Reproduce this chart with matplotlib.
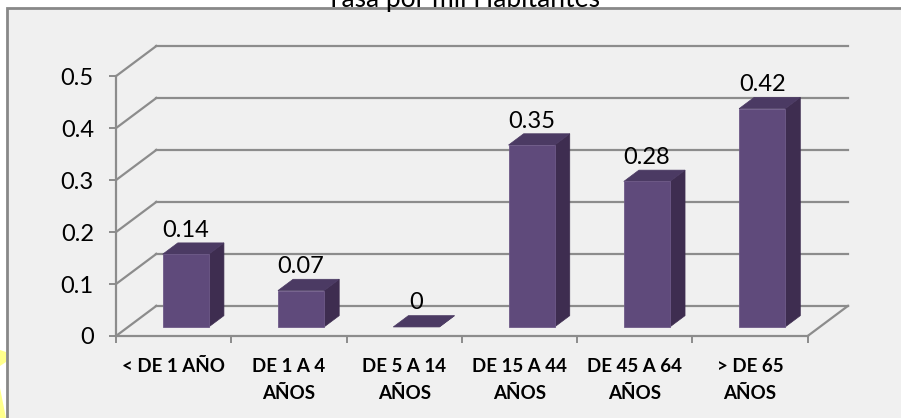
import matplotlib
matplotlib.use("Agg")
import matplotlib.pyplot as plt
from matplotlib.patches import Polygon, Rectangle

# datos
categorias = ["< DE 1 AÑO", "DE 1 A 4\nAÑOS", "DE 5 A 14\nAÑOS",
              "DE 15 A 44\nAÑOS", "DE 45 A 64\nAÑOS", "> DE 65\nAÑOS"]
tasas = [0.14, 0.07, 0, 0.35, 0.28, 0.42]
etiquetas = ["0.14", "0.07", "0", "0.35", "0.28", "0.42"]
ticks_y = [0, 0.1, 0.2, 0.3, 0.4, 0.5]
titulo = "Tasa por mil Habitantes"

# estilo
FRENTE = "#5F4A7B"
LADO = "#3E2D50"
TECHO = "#4B3A63"
GRIS = "#8C8C8C"
FONDO = "#F0F0F0"
plt.rcParams['font.family'] = ['Lato', 'DejaVu Sans']

# proyeccion oblicua (en unidades de datos)
DX = 0.35      # desplazamiento horizontal de la pared del fondo
DY = 0.058     # desplazamiento vertical de la pared del fondo
D0 = 0.3       # profundidad de la cara frontal de la barra
T = 0.375      # grosor de la barra (fraccion de profundidad)
ANCHO = 0.4

W, H = 901, 418
fig = plt.figure(figsize=(W / 100, H / 100), dpi=100)
fig.patch.set_facecolor("white")

# marco del grafico
fig.patches.append(Rectangle((7 / W, -0.1), 1.2, 1.1 - 8 / H, transform=fig.transFigure,
                             facecolor=FONDO, edgecolor="#888888", linewidth=2, zorder=-2))
# manchas amarillas del borde
fig.patches.append(Polygon([(0, 1 - 350 / H), (6 / W, 1 - 352 / H), (6 / W, 1 - 362 / H), (0, 1 - 366 / H)],
                           transform=fig.transFigure, facecolor="#FFFF8C", edgecolor="none", zorder=-1))
fig.patches.append(Polygon([(0, 1 - 388 / H), (6 / W, 0), (0, 0)],
                           transform=fig.transFigure, facecolor="#FFFF8C", edgecolor="none", zorder=-1))

fig.text(463 / W, 1 - 7 / H, titulo, ha="center", va="baseline", fontsize=19)

ax = fig.add_axes([116 / W, (H - 336) / H, (848 - 116) / W, (336 - 46) / H])
ax.set_zorder(2)
ax.set_facecolor("none")
n = len(tasas)
ax.set_xlim(-0.5, n - 0.5 + DX)
ax.set_ylim(0, 0.5 + DY)

# paredes: lineas de cuadricula
for v in ticks_y:
    ax.plot([-0.5, -0.5 + DX], [v, v + DY], color=GRIS, lw=1.6, zorder=1, clip_on=False)
    ax.plot([-0.5 + DX, n - 0.5 + DX], [v + DY, v + DY], color=GRIS, lw=1.6, zorder=1, clip_on=False)
ax.plot([n - 0.5, n - 0.5 + DX], [0, DY], color=GRIS, lw=1.6, zorder=1, clip_on=False)

# barras 3D
for i, v in enumerate(tasas):
    x0 = i - ANCHO / 2 + D0 * DX
    x1 = x0 + ANCHO
    y0 = D0 * DY
    y1 = v + D0 * DY
    ex, ey = T * DX, T * DY
    ax.add_patch(Polygon([(x1, y0), (x1 + ex, y0 + ey), (x1 + ex, y1 + ey), (x1, y1)],
                         facecolor=LADO, edgecolor=LADO, lw=0.5, zorder=3))
    ax.add_patch(Polygon([(x0, y1), (x1, y1), (x1 + ex, y1 + ey), (x0 + ex, y1 + ey)],
                         facecolor=TECHO, edgecolor=TECHO, lw=0.5, zorder=3))
    if v > 0:
        ax.add_patch(Polygon([(x0, y0), (x1, y0), (x1, y1), (x0, y1)],
                             facecolor=FRENTE, edgecolor="#6E5A88", lw=0.6, zorder=4))
    ax.annotate(etiquetas[i], (i + D0 * DX, v + (D0 + T) * DY), xytext=(0, 4.5),
                textcoords="offset points", ha="center", va="baseline", fontsize=17, zorder=5)

# ejes
for s in ["top", "right"]:
    ax.spines[s].set_visible(False)
ax.spines["left"].set_bounds(0, 0.5)
ax.spines["bottom"].set_bounds(-0.5, n - 0.5)
for s in ["left", "bottom"]:
    ax.spines[s].set_color(GRIS)
    ax.spines[s].set_linewidth(1.6)
    ax.spines[s].set_zorder(2)

ax.set_yticks(ticks_y)
ax.set_yticklabels(["0", "0.1", "0.2", "0.3", "0.4", "0.5"])
ax.tick_params(axis="y", direction="out", length=5, width=1.4, color=GRIS, pad=11, labelsize=17)

ax.set_xticks([i - 0.5 for i in range(n + 1)])
ax.set_xticklabels([])
ax.set_xticks(range(n), minor=True)
ax.set_xticklabels(categorias, minor=True, fontweight="bold", fontsize=13.5, linespacing=1.7)
ax.tick_params(axis="x", which="minor", length=0, pad=16)
ax.tick_params(axis="x", which="major", direction="out", length=5, width=1.4, color=GRIS)

fig.savefig("out.png", dpi=100)
